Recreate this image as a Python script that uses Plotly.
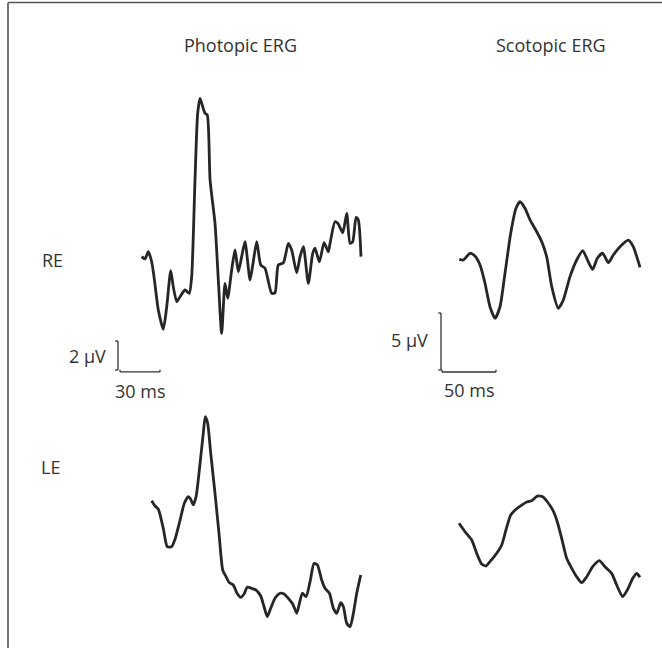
import plotly.graph_objects as go

# ---------------- data (time in ms, amplitude in µV) ----------------
phot_re_t = [0.5, 3.0, 5.5, 8.0, 9.75, 13.0, 16.7, 19.3, 22.3, 24.2, 26.8, 29.3, 33.0, 36.2, 38.0,
             40.5, 42.5, 44.3, 46.3, 48.0, 49.7, 51.8, 55.5, 58.0, 60.5, 63.0, 65.0, 68.0, 70.5,
             73.0, 75.5, 78.0, 81.8, 84.2, 86.8, 89.8, 93.0, 98.0, 100.5, 103.0, 106.8, 110.5,
             113.0, 116.8, 119.3, 121.8, 125.5, 128.8, 130.5, 133.8, 137.3, 140.5, 141.8, 145.5,
             148.0, 151.3, 154.3, 156.8, 158.8, 161.3, 163.0, 165.0]
phot_re_v = [0.23, 0.07, 0.57, -0.12, -1.15, -3.45, -4.78, -3.22, -0.74, -1.84, -2.88, -2.53, -2.07,
             -2.30, -1.15, 5.52, 10.12, 11.15, 10.57, 10.12, 10.0, 5.52, 2.53, -1.38, -5.06, -1.61,
             -2.64, -0.69, 0.69, -0.81, 0.23, 1.26, -1.38, -0.12, 1.26, -0.34, -0.57, -2.30, -2.26,
             -0.34, -0.19, 1.15, 0.69, -0.88, 0.23, 0.92, -1.61, 0.46, 0.81, -0.12, 1.19, 0.57, 1.15,
             2.64, 2.48, 1.88, 3.22, 1.15, 1.26, 2.94, 2.76, 0.23]

phot_le_t = [8.0, 10.5, 13.0, 16.7, 19.7, 23.0, 25.5, 29.3, 32.5, 35.5, 37.3, 39.2, 41.3, 44.3, 46.7,
             48.2, 50.0, 52.3, 55.5, 58.5, 61.3, 63.8, 66.2, 69.2, 71.8, 74.8, 77.3, 79.7, 83.0, 86.3,
             89.8, 92.3, 94.7, 97.3, 100.5, 104.3, 107.3, 110.5, 113.8, 116.8, 118.8, 121.0, 123.8,
             126.8, 129.8, 132.3, 135.5, 138.0, 141.3, 144.3, 146.8, 149.8, 151.8, 154.3, 156.8,
             159.3, 161.8, 164.8]
phot_le_v = [-0.05, -0.41, -0.64, -1.95, -3.22, -3.22, -2.71, -1.38, -0.23, 0.23, 0.05, -0.34, 0.23,
             2.53, 4.60, 5.74, 5.29, 3.22, 0.46, -2.30, -4.83, -5.29, -5.70, -5.86, -6.39, -6.71,
             -6.48, -6.02, -6.09, -6.21, -6.62, -7.36, -8.05, -7.47, -6.78, -6.43, -6.48, -6.78,
             -7.17, -7.81, -7.13, -6.43, -6.67, -5.63, -4.37, -4.48, -5.52, -6.09, -6.43, -7.47,
             -7.81, -7.08, -7.36, -8.50, -8.74, -7.81, -6.43, -5.17]

scot_re_t = [1.2, 4.9, 11.1, 15.7, 20.4, 25.0, 29.6, 34.3, 38.9, 43.5, 48.8, 53.7, 57.4, 62.0, 66.7,
             72.9, 77.5, 82.1, 86.8, 92.9, 97.5, 103.7, 109.9, 115.5, 120.6, 124.7, 129.0, 134.0,
             139.2, 143.8, 150.0, 157.7, 162.3, 165.5, 168.5]
scot_re_v = [0.06, 0.0, 0.59, 0.35, -0.44, -2.04, -4.10, -5.11, -4.10, -1.17, 2.34, 4.54, 5.11, 4.54,
             3.51, 2.48, 1.61, 0.29, -2.34, -4.24, -3.51, -1.46, 0.0, 0.82, -0.15, -0.82, 0.15, 0.59,
             -0.24, 0.44, 1.17, 1.75, 1.17, 0.29, -0.64]

scot_le_t = [0.9, 6.5, 12.7, 17.3, 21.9, 25.9, 29.6, 35.8, 40.5, 44.4, 48.8, 53.7, 59.0, 64.2, 68.2,
             73.4, 78.4, 82.7, 87.7, 91.9, 96.0, 100.6, 105.3, 109.9, 114.5, 119.2, 124.7, 130.8,
             136.1, 142.3, 146.9, 152.5, 156.8, 161.8, 165.5, 168.5]
scot_le_v = [0.15, -0.59, -1.32, -2.48, -3.42, -3.60, -3.22, -2.48, -1.75, -0.44, 0.88, 1.38, 1.75,
             2.04, 2.13, 2.54, 2.48, 2.04, 1.32, 0.29, -1.17, -2.92, -3.80, -4.54, -5.06, -4.54,
             -3.66, -3.13, -3.66, -4.24, -5.26, -6.29, -5.70, -4.68, -4.24, -4.59]

column_titles = ["Photopic ERG", "Scotopic ERG"]
row_labels = ["RE", "LE"]
phot_scale_ms, phot_scale_uv = 30, 2
scot_scale_ms, scot_scale_uv = 50, 5

# ---------------- figure ----------------
W, H = 662, 648
LINE = dict(color="#262626", width=2.8, shape="spline", smoothing=0.6)

fig = go.Figure()
fig.add_trace(go.Scatter(x=phot_re_t, y=phot_re_v, mode="lines", line=LINE, xaxis="x", yaxis="y"))
fig.add_trace(go.Scatter(x=scot_re_t, y=scot_re_v, mode="lines", line=LINE, xaxis="x2", yaxis="y2"))
fig.add_trace(go.Scatter(x=phot_le_t, y=phot_le_v, mode="lines", line=LINE, xaxis="x3", yaxis="y3"))
fig.add_trace(go.Scatter(x=scot_le_t, y=scot_le_v, mode="lines", line=LINE, xaxis="x4", yaxis="y4"))

def px(p):
    return p / W

def py(p):
    return 1 - p / H

hidden = dict(visible=False, showgrid=False, zeroline=False, fixedrange=True)
top_dom = [py(390), py(70)]
bot_dom = [py(645), py(395)]
phot_dom = [px(100), px(380)]
scot_dom = [px(420), px(660)]

FONT = "Open Sans, Noto Sans, sans-serif"
fig.update_layout(
    width=W, height=H,
    margin=dict(l=0, r=0, t=0, b=0),
    paper_bgcolor="white", plot_bgcolor="rgba(0,0,0,0)",
    showlegend=False,
    hovermode=False,
    font=dict(family=FONT, size=18, color="#333333"),
    xaxis=dict(domain=phot_dom, range=[-30.75, 179.25], anchor="y", **hidden),
    yaxis=dict(domain=top_dom, range=[-8.966, 13.103], anchor="x", **hidden),
    xaxis2=dict(domain=scot_dom, range=[-35.19, 187.04], anchor="y2", **hidden),
    yaxis2=dict(domain=top_dom, range=[-11.404, 16.667], anchor="x2", **hidden),
    xaxis3=dict(domain=phot_dom, range=[-30.75, 179.25], anchor="y3", **hidden),
    yaxis3=dict(domain=bot_dom, range=[-10.0, 7.241], anchor="x3", **hidden),
    xaxis4=dict(domain=scot_dom, range=[-35.19, 187.04], anchor="y4", **hidden),
    yaxis4=dict(domain=bot_dom, range=[-10.526, 11.404], anchor="x4", **hidden),
)

shapes = []
bar = dict(color="#333333", width=1.3)
# photopic scale bar (in photopic RE axes)
vx, vy0 = -17.25, -7.586
hx0, hy = -15.75, -7.72
shapes += [
    dict(type="line", xref="x", yref="y", x0=vx, x1=vx, y0=vy0, y1=vy0 + phot_scale_uv, line=bar),
    dict(type="line", xref="x", yref="y", x0=vx - 2.2, x1=vx, y0=vy0 + phot_scale_uv, y1=vy0 + phot_scale_uv, line=bar),
    dict(type="line", xref="x", yref="y", x0=vx - 2.2, x1=vx, y0=vy0, y1=vy0, line=bar),
    dict(type="line", xref="x", yref="y", x0=hx0, x1=hx0 + phot_scale_ms, y0=hy, y1=hy, line=bar),
    dict(type="line", xref="x", yref="y", x0=hx0, x1=hx0, y0=hy, y1=hy + 0.15, line=bar),
    dict(type="line", xref="x", yref="y", x0=hx0 + phot_scale_ms, x1=hx0 + phot_scale_ms, y0=hy, y1=hy + 0.15, line=bar),
]
# scotopic scale bar (in scotopic RE axes)
svx, svy0 = -15.74, -9.649
shx0, shy = -14.81, -9.825
shapes += [
    dict(type="line", xref="x2", yref="y2", x0=svx, x1=svx, y0=svy0, y1=svy0 + scot_scale_uv, line=bar),
    dict(type="line", xref="x2", yref="y2", x0=svx - 2.5, x1=svx, y0=svy0 + scot_scale_uv, y1=svy0 + scot_scale_uv, line=bar),
    dict(type="line", xref="x2", yref="y2", x0=svx - 2.5, x1=svx, y0=svy0, y1=svy0, line=bar),
    dict(type="line", xref="x2", yref="y2", x0=shx0, x1=shx0 + scot_scale_ms, y0=shy, y1=shy, line=bar),
    dict(type="line", xref="x2", yref="y2", x0=shx0, x1=shx0, y0=shy, y1=shy + 0.2, line=bar),
    dict(type="line", xref="x2", yref="y2", x0=shx0 + scot_scale_ms, x1=shx0 + scot_scale_ms, y0=shy, y1=shy + 0.2, line=bar),
]
# frame (top and left edges)
frame = dict(color="#555555", width=1.6)
shapes += [
    dict(type="line", xref="paper", yref="paper", x0=px(8), x1=1.0, y0=py(2.5), y1=py(2.5), line=frame),
    dict(type="line", xref="paper", yref="paper", x0=px(8), x1=px(8), y0=0, y1=py(2.5), line=frame),
]
fig.update_layout(shapes=shapes)

def ann(text, x, y, xanchor="center"):
    return dict(text=text, xref="paper", yref="paper", x=px(x), y=py(y), xanchor=xanchor,
                yanchor="middle", showarrow=False, font=dict(family=FONT, size=18, color="#333333"))

fig.update_layout(annotations=[
    ann(column_titles[0], 240, 45),
    ann(column_titles[1], 551, 45),
    ann(row_labels[0], 52, 260),
    ann(row_labels[1], 50, 467),
    ann(f"{phot_scale_uv} µV", 108, 356, "right"),
    ann(f"{phot_scale_ms} ms", 140, 391),
    ann(f"{scot_scale_uv} µV", 430, 340, "right"),
    ann(f"{scot_scale_ms} ms", 469, 390),
])

fig.write_html("out.html", config={"displayModeBar": False, "staticPlot": True},
               post_script="document.body.style.margin='0px';document.body.style.overflow='hidden';")
